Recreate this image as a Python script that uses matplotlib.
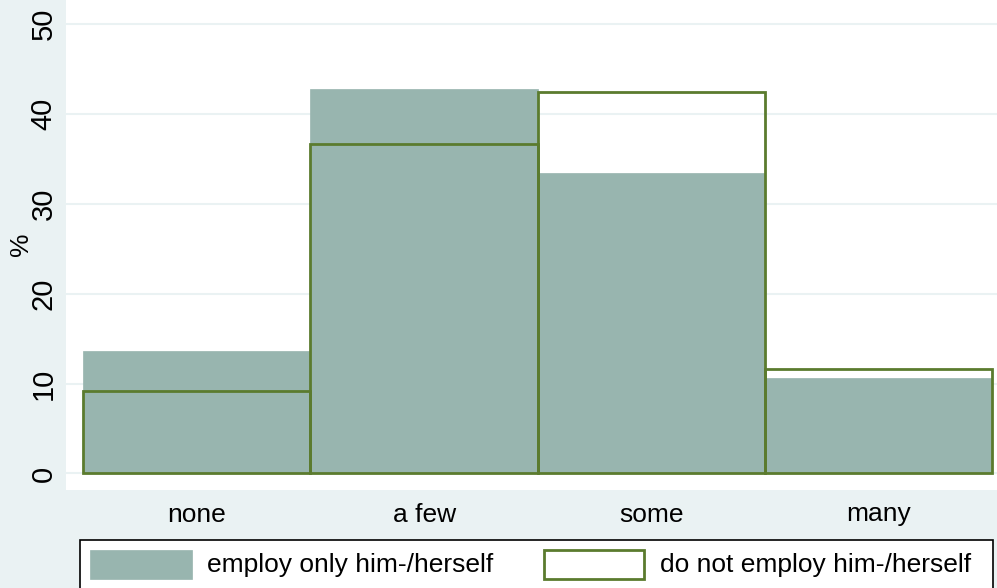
import matplotlib.pyplot as plt
from matplotlib.patches import Rectangle

plt.rcParams["font.family"] = ["Liberation Sans", "DejaVu Sans"]

# data
categories = ["none", "a few", "some", "many"]
employ_only = [13.6, 42.8, 33.4, 10.6]
not_employ = [9.2, 36.7, 42.45, 11.65]
y_ticks = [0, 10, 20, 30, 40, 50]
legend_labels = ["employ only him-/herself", "do not employ him-/herself"]

fill_color = "#98b5af"
line_color = "#5b7b2e"
bg_color = "#eaf2f3"

W, H = 997, 588
fig = plt.figure(figsize=(W / 100, H / 100), dpi=100, facecolor=bg_color)
ax = fig.add_axes([66 / W, 1 - 490 / H, 931 / W, 490 / H])
ax.set_facecolor("white")

x = list(range(len(categories)))
ax.bar(x, employ_only, width=1.0, color=fill_color, edgecolor=fill_color,
       linewidth=0.5, zorder=2)
ax.bar(x, not_employ, width=1.0, facecolor="none", edgecolor=line_color,
       linewidth=2.0, zorder=3)

ax.set_xlim(-0.575, 3.52)
ax.set_ylim(-1.84, 52.7)
ax.set_yticks(y_ticks)
ax.set_yticklabels([str(t) for t in y_ticks], rotation=90, va="center",
                   fontsize=21)
ax.set_xticks(x)
ax.set_xticklabels(categories, fontsize=19)
ax.tick_params(axis="both", length=0)
ax.tick_params(axis="y", pad=6)
ax.tick_params(axis="x", pad=9)
ax.grid(axis="y", color=bg_color, linewidth=1.5, zorder=0)
for s in ax.spines.values():
    s.set_visible(False)
ax.set_ylabel("%", fontsize=19)
ax.yaxis.set_label_coords(-33 / 931, (490 - 244) / 490)


# legend drawn by hand, in pixel positions of the figure
def px(x0, y0):
    return x0 / W, 1 - y0 / H


frame = Rectangle(px(80, 610), 913 / W, 70 / H, transform=fig.transFigure,
                  facecolor="white", edgecolor="black", linewidth=1.2,
                  clip_on=False)
fig.patches.append(frame)
fig.patches.append(Rectangle(px(90, 579), 102 / W, 29 / H,
                             transform=fig.transFigure, facecolor=fill_color,
                             edgecolor=fill_color, linewidth=0.5))
fig.patches.append(Rectangle(px(544, 579), 100 / W, 29 / H,
                             transform=fig.transFigure, facecolor="white",
                             edgecolor=line_color, linewidth=2))
fig.text(*px(207, 565), legend_labels[0], fontsize=19, va="center", ha="left")
fig.text(*px(660, 565), legend_labels[1], fontsize=19, va="center", ha="left")

fig.savefig("out.png", dpi=100, facecolor=bg_color)
